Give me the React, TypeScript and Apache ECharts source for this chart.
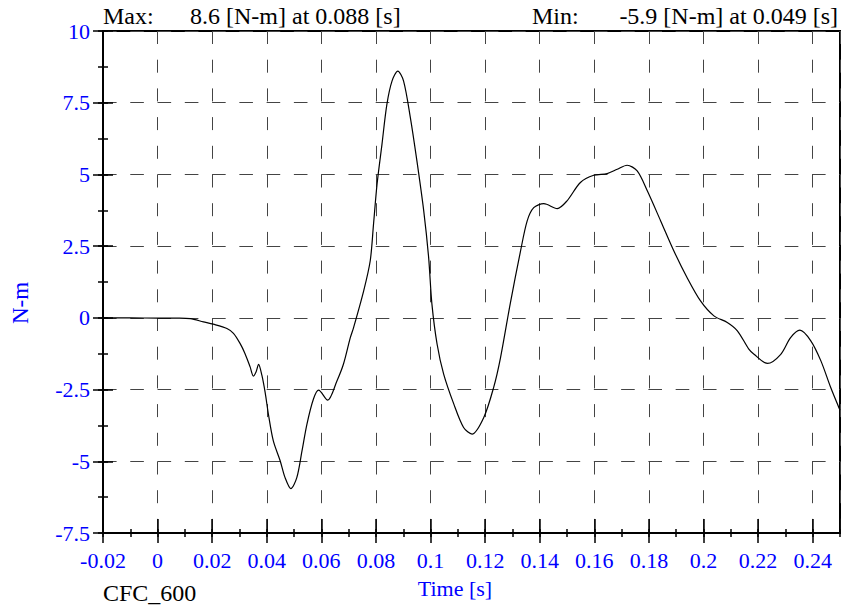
import React, { useEffect, useRef } from "react";
import * as echarts from "echarts";

const times = [
  -0.02, -0.01, 0.0, 0.008, 0.012, 0.0168, 0.0204, 0.0254, 0.0278, 0.0302, 0.032, 0.0339, 0.0351,
  0.0361, 0.037, 0.0382, 0.0394, 0.0406, 0.0424, 0.0449, 0.0467, 0.0488, 0.051, 0.0529, 0.0547,
  0.0571, 0.059, 0.0623, 0.0657, 0.0681, 0.0706, 0.0718, 0.0755, 0.0779, 0.0791, 0.0804, 0.0822,
  0.084, 0.0859, 0.088, 0.0901, 0.0926, 0.095, 0.0975, 0.0993, 0.1005, 0.1024, 0.1048, 0.1085,
  0.1121, 0.1152, 0.1195, 0.1231, 0.1256, 0.1292, 0.1329, 0.1354, 0.1378, 0.1415, 0.1464, 0.15,
  0.1549, 0.1598, 0.1647, 0.1684, 0.172, 0.1757, 0.1794, 0.1843, 0.1891, 0.194, 0.1989, 0.2038,
  0.2087, 0.2124, 0.2166, 0.2185, 0.2234, 0.2283, 0.2319, 0.2353, 0.2393, 0.243, 0.2466, 0.25,
];
const torque = [
  0, 0, -0.01, -0.01, -0.03, -0.14, -0.22, -0.37, -0.54, -0.89, -1.24, -1.71, -2.03,
  -1.88, -1.62, -2.0, -2.6, -3.36, -4.29, -4.98, -5.57, -5.95, -5.57, -4.64, -3.71,
  -2.83, -2.52, -2.87, -2.2, -1.61, -0.69, -0.34, 0.94, 1.99, 3.26, 4.66, 6.05,
  7.44, 8.26, 8.6, 8.26, 6.98, 5.47, 3.73, 2.1, 0.48, -0.92, -1.96, -3.0,
  -3.82, -4.05, -3.47, -2.43, -1.4, 0.5, 2.3, 3.38, 3.84, 3.98, 3.81, 4.08,
  4.72, 4.97, 5.03, 5.18, 5.32, 5.12, 4.43, 3.38, 2.34, 1.4, 0.59, 0.07,
  -0.16, -0.45, -1.09, -1.27, -1.59, -1.27, -0.69, -0.43, -0.8, -1.5, -2.43, -3.22,
];

const xMin = -0.02;
const xMax = 0.25;
const xStep = 0.02;
const xMinorStep = 0.01;
const yMin = -7.5;
const yMax = 10;
const yStep = 2.5;
const yMinorStep = 1.25;

const maxLabel = "Max:";
const maxText = "8.6 [N-m] at 0.088 [s]";
const minLabel = "Min:";
const minText = "-5.9 [N-m] at 0.049 [s]";
const filterName = "CFC_600";
const xName = "Time [s]";
const yName = "N-m";

const SERIF = '"Liberation Serif", "Times New Roman", serif';
const BLUE = "#0000ff";

function fmt(v: number) {
  return String(parseFloat(Number(v).toFixed(4)));
}

export default function App() {
  const ref = useRef<HTMLDivElement>(null);
  useEffect(() => {
    if (!ref.current) return;
    const chart = echarts.init(ref.current, null, { renderer: "svg" });

    const baseX = (extra: any) => ({
      type: "value",
      position: "bottom",
      min: xMin,
      max: xMax,
      gridIndex: 0,
      axisLine: { show: false, onZero: false },
      axisLabel: { show: false },
      splitLine: { show: false },
      ...extra,
    });
    const baseY = (extra: any) => ({
      type: "value",
      position: "left",
      min: yMin,
      max: yMax,
      gridIndex: 0,
      axisLine: { show: false, onZero: false },
      axisLabel: { show: false },
      splitLine: { show: false },
      ...extra,
    });

    const option: any = {
      animation: false,
      backgroundColor: "#ffffff",
      grid: {
        left: 103,
        top: 31,
        right: 1,
        bottom: 76,
        show: true,
        borderColor: "#000",
        borderWidth: 2,
        backgroundColor: "transparent",
      },
      xAxis: [
        baseX({
          interval: xStep,
          axisLine: { show: true, onZero: false, lineStyle: { color: "#000", width: 2 } },
          axisTick: { show: true, inside: false, length: 10, lineStyle: { color: "#000", width: 1.5 } },
          axisLabel: {
            show: true,
            margin: 16,
            color: BLUE,
            fontFamily: SERIF,
            fontSize: 22,
            showMaxLabel: false,
            formatter: (v: number) => fmt(v),
          },
          splitLine: {
            show: true,
            lineStyle: { color: "#444", width: 1, type: [13, 15.7] },
          },
        }),
        baseX({
          interval: xStep,
          axisTick: { show: true, inside: true, length: 14, lineStyle: { color: "#000", width: 1.5 } },
        }),
        baseX({
          interval: xMinorStep,
          axisTick: { show: true, inside: true, length: 4, lineStyle: { color: "#000", width: 1.5 } },
        }),
        baseX({
          interval: xMinorStep,
          axisTick: { show: true, inside: false, length: 4, lineStyle: { color: "#000", width: 1.5 } },
        }),
      ],
      yAxis: [
        baseY({
          interval: yStep,
          axisLine: { show: true, onZero: false, lineStyle: { color: "#000", width: 2 } },
          axisTick: { show: true, inside: false, length: 10, lineStyle: { color: "#000", width: 1.5 } },
          axisLabel: {
            show: true,
            margin: 13,
            color: BLUE,
            fontFamily: SERIF,
            fontSize: 22,
            formatter: (v: number) => fmt(v),
          },
          splitLine: {
            show: true,
            lineStyle: { color: "#444", width: 1, type: [13.6, 13.67] },
          },
        }),
        baseY({
          interval: yStep,
          axisTick: { show: true, inside: true, length: 10, lineStyle: { color: "#000", width: 1.5 } },
        }),
        baseY({
          interval: yMinorStep,
          axisTick: { show: true, inside: true, length: 5, lineStyle: { color: "#000", width: 1.5 } },
        }),
        baseY({
          interval: yMinorStep,
          axisTick: { show: true, inside: false, length: 5, lineStyle: { color: "#000", width: 1.5 } },
        }),
      ],
      series: [
        {
          type: "line",
          xAxisIndex: 0,
          yAxisIndex: 0,
          data: times.map((t, i) => [t, torque[i]]),
          smooth: 0.3,
          showSymbol: false,
          symbol: "none",
          lineStyle: { color: "#000", width: 1.2 },
          z: 5,
        },
      ],
      graphic: [
        {
          type: "text",
          x: 103,
          y: 16,
          style: { text: maxLabel, font: `24px ${SERIF}`, fill: "#000", align: "left", verticalAlign: "middle" },
        },
        {
          type: "text",
          x: 190,
          y: 16,
          style: { text: maxText, font: `24px ${SERIF}`, fill: "#000", align: "left", verticalAlign: "middle" },
        },
        {
          type: "text",
          x: 532,
          y: 16,
          style: { text: minLabel, font: `24px ${SERIF}`, fill: "#000", align: "left", verticalAlign: "middle" },
        },
        {
          type: "text",
          x: 838,
          y: 16,
          style: { text: minText, font: `24px ${SERIF}`, fill: "#000", align: "right", verticalAlign: "middle" },
        },
        {
          type: "text",
          x: 103,
          y: 593,
          style: { text: filterName, font: `24px ${SERIF}`, fill: "#000", align: "left", verticalAlign: "middle" },
        },
        {
          type: "text",
          x: 455,
          y: 588,
          style: { text: xName, font: `22px ${SERIF}`, fill: BLUE, align: "center", verticalAlign: "middle" },
        },
        {
          type: "text",
          x: 20,
          y: 303,
          rotation: Math.PI / 2,
          style: { text: yName, font: `23px ${SERIF}`, fill: BLUE, align: "center", verticalAlign: "middle" },
        },
      ],
    };
    chart.setOption(option);
    return () => chart.dispose();
  }, []);
  return <div ref={ref} style={{ width: 841, height: 609, position: "absolute", left: 0, top: 0 }} />;
}
